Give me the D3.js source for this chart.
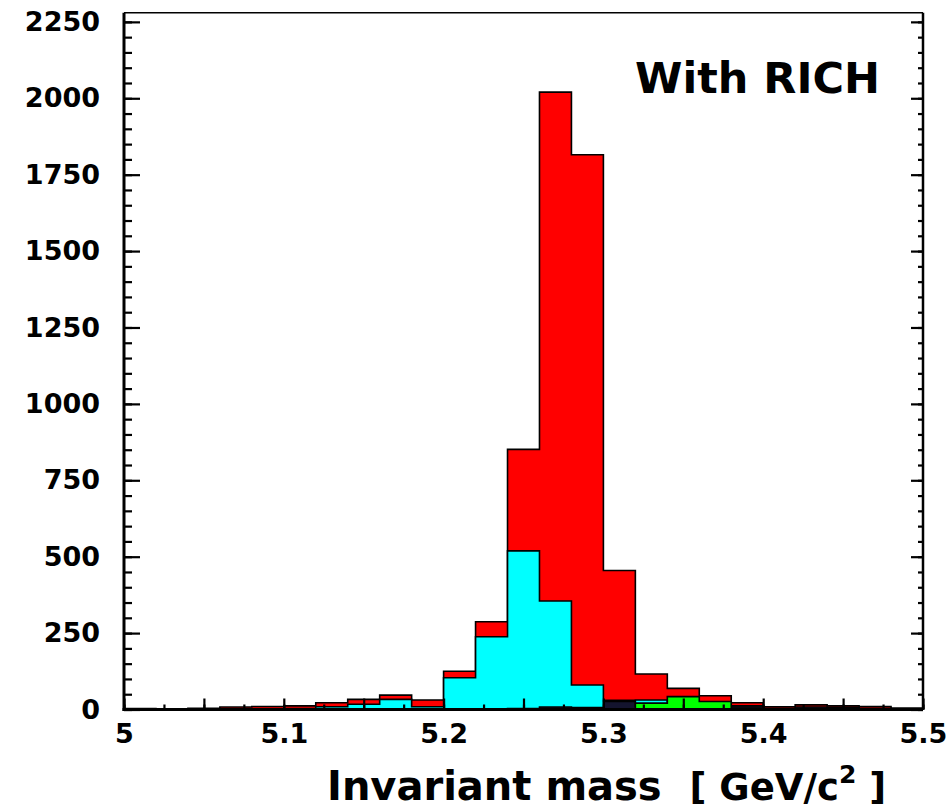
<!DOCTYPE html>
<html>
<head>
<meta charset="utf-8">
<script src="https://cdn.jsdelivr.net/npm/d3@7"></script>
<style>
	body { margin: 0; background: #fff; }
	svg { display: block; }
	text { font-family: "DejaVu Sans", sans-serif; font-weight: bold; fill: #000; }
</style>
</head>
<body>
<div id="chart"></div>
<script>
// bins of 0.02 GeV from 5.00 to 5.50
var binStarts = [5.00, 5.02, 5.04, 5.06, 5.08, 5.10, 5.12, 5.14, 5.16, 5.18, 5.20, 5.22, 5.24,
	5.26, 5.28, 5.30, 5.32, 5.34, 5.36, 5.38, 5.40, 5.42, 5.44, 5.46, 5.48];
var binWidth = 0.02;

// histogram contents
var redCounts = [3, 2, 4, 8, 10, 12, 22, 33, 47, 31, 125, 287, 851, 2020, 1815, 455, 116, 69, 45, 22, 9, 15, 12, 10, 5];
var cyanCounts = [0, 0, 0, 1, 2, 3, 9, 17, 33, 9, 104, 238, 519, 355, 80, 30, 31, 3, 2, 1, 0, 0, 0, 0, 0];
var darkCounts = [0, 0, 0, 0, 0, 0, 0, 0, 0, 0, 0, 0, 3, 8, 6, 26, 12, 6, 4, 12, 4, 8, 6, 4, 2];
var greenCounts = [0, 0, 0, 0, 0, 0, 0, 0, 0, 0, 0, 0, 0, 0, 0, 2, 21, 42, 26, 5, 0, 0, 0, 0, 0];
var magentaCounts = [0, 0, 0, 0, 0, 0, 0, 0, 0, 0, 0, 0, 0, 0, 0, 0, 0, 0, 0, 0, 0, 0, 6, 0, 0];

var xTicks = [5, 5.1, 5.2, 5.3, 5.4, 5.5];
var xTickLabels = ["5", "5.1", "5.2", "5.3", "5.4", "5.5"];
var yTicks = [0, 250, 500, 750, 1000, 1250, 1500, 1750, 2000, 2250];

(function() {
	var width = 946,
		height = 811;

	var x = d3.scaleLinear().domain([5, 5.5]).range([124, 923]),
		y = d3.scaleLinear().domain([0, 2280]).range([709.5, 12.7]);

	var svg = d3.select("#chart").append("svg")
		.attr("width", width)
		.attr("height", height);

	// histograms, drawn back to front
	var series = [
		{ counts: redCounts, fill: "#ff0000" },
		{ counts: cyanCounts, fill: "#00ffff" },
		{ counts: darkCounts, fill: "#14142e" },
		{ counts: greenCounts, fill: "#00ff00" },
		{ counts: magentaCounts, fill: "#cc33cc" }
	];

	function stepPoints(counts) {
		var pts = [[binStarts[0], 0]];
		counts.forEach(function(c, i) {
			pts.push([binStarts[i], c]);
			pts.push([binStarts[i] + binWidth, c]);
		});
		pts.push([binStarts[binStarts.length - 1] + binWidth, 0]);
		return pts;
	}

	var area = d3.area()
		.x(function(d) { return x(d[0]); })
		.y0(y(0))
		.y1(function(d) { return y(d[1]); });

	var line = d3.line()
		.x(function(d) { return x(d[0]); })
		.y(function(d) { return y(d[1]); });

	series.forEach(function(s) {
		var pts = stepPoints(s.counts);
		svg.append("path")
			.attr("d", area(pts))
			.attr("fill", s.fill);
		svg.append("path")
			.attr("d", line(pts))
			.attr("fill", "none")
			.attr("stroke", "#000")
			.attr("stroke-width", 1.6);
	});

	// minor tick values
	var xMinor = d3.range(0, 21).map(function(i) { return 5 + i * 0.025; }),
		xMid = xMinor.filter(function(d, i) { return i % 2 === 0; }),
		yMinor = d3.range(0, 46).map(function(i) { return i * 50; });

	// bottom axis
	svg.append("g")
		.attr("transform", "translate(0," + y(0) + ")")
		.call(d3.axisBottom(x).tickValues(xMinor).tickSize(-5).tickFormat(""))
		.call(function(g) { g.select(".domain").remove(); });
	svg.append("g")
		.attr("class", "xaxis")
		.attr("transform", "translate(0," + y(0) + ")")
		.call(d3.axisBottom(x).tickValues(xMid).tickSize(-11).tickPadding(14).tickFormat(function(d) {
			var k = xTicks.findIndex(function(t) { return Math.abs(t - d) < 1e-9; });
			return k < 0 ? "" : xTickLabels[k];
		}))
		.call(function(g) { g.select(".domain").remove(); });

	// left axis
	svg.append("g")
		.attr("transform", "translate(" + x(5) + ",0)")
		.call(d3.axisLeft(y).tickValues(yMinor).tickSize(-8).tickFormat(""))
		.call(function(g) { g.select(".domain").remove(); });
	svg.append("g")
		.attr("class", "yaxis")
		.attr("transform", "translate(" + x(5) + ",0)")
		.call(d3.axisLeft(y).tickValues(yTicks).tickSize(-16).tickPadding(24).tickFormat(d3.format("d")))
		.call(function(g) { g.select(".domain").remove(); });

	// right axis, ticks only
	svg.append("g")
		.attr("transform", "translate(" + x(5.5) + ",0)")
		.call(d3.axisRight(y).tickValues(yMinor).tickSize(-5).tickFormat(""))
		.call(function(g) { g.select(".domain").remove(); });
	svg.append("g")
		.attr("transform", "translate(" + x(5.5) + ",0)")
		.call(d3.axisRight(y).tickValues(yTicks).tickSize(-12).tickFormat(""))
		.call(function(g) { g.select(".domain").remove(); });

	svg.selectAll(".tick line").attr("stroke", "#000").attr("stroke-width", 2.2);
	svg.selectAll(".xaxis text, .yaxis text")
		.style("font-size", "27px")
		.style("font-family", "'DejaVu Sans', sans-serif")
		.style("font-weight", "bold")
		.attr("fill", "#000");

	// frame
	svg.append("line").attr("x1", x(5)).attr("x2", x(5.5)).attr("y1", y(2280)).attr("y2", y(2280))
		.attr("stroke", "#000").attr("stroke-width", 1.5);
	svg.append("line").attr("x1", x(5.5)).attr("x2", x(5.5)).attr("y1", y(2280)).attr("y2", y(0))
		.attr("stroke", "#000").attr("stroke-width", 2.5);
	svg.append("line").attr("x1", x(5)).attr("x2", x(5)).attr("y1", y(2280)).attr("y2", y(0) + 1.5)
		.attr("stroke", "#000").attr("stroke-width", 3);
	svg.append("line").attr("x1", x(5) - 1.5).attr("x2", x(5.5)).attr("y1", y(0)).attr("y2", y(0))
		.attr("stroke", "#000").attr("stroke-width", 3);

	// labels
	svg.append("text")
		.attr("x", 635)
		.attr("y", 93)
		.style("font-size", "43px")
		.text("With RICH");

	var title = svg.append("text")
		.attr("x", 327)
		.attr("y", 800)
		.attr("xml:space", "preserve")
		.style("font-size", "40px");
	title.append("tspan").text("Invariant mass  ");
	title.append("tspan").style("font-size", "37px").text("[ GeV/c");
	title.append("tspan").attr("dy", -17).style("font-size", "25px").text("2");
	title.append("tspan").attr("dy", 17).style("font-size", "37px").text(" ]");
})();
</script>
</body>
</html>
